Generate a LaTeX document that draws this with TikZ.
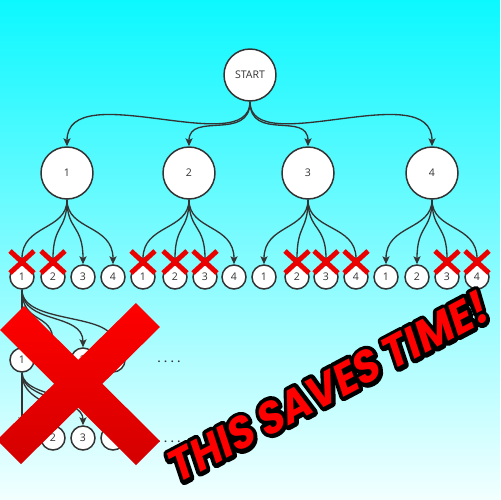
\documentclass[tikz,border=0pt]{standalone}
\usepackage{fontspec}
\setmainfont{Open Sans}
\newfontfamily\shoutfont{Poppins}[FakeSlant=0.18]
\usetikzlibrary{arrows.meta}
\definecolor{ink}{RGB}{51,51,51}
\definecolor{skytop}{RGB}{12,248,255}
\definecolor{skybot}{RGB}{242,255,255}
\definecolor{crossred}{RGB}{235,0,0}
\definecolor{crosstop}{RGB}{255,0,0}
\definecolor{crossdark}{RGB}{212,0,0}
% slogan, scaled to a fixed width and cap height
\newcommand\shouttext{\resizebox{202pt}{18.5pt}{THIS SAVES TIME!}}
% the same slogan drawn as a thick black stroke only
\newcommand\shoutrim{\resizebox{202pt}{18.5pt}{\special{pdf:literal direct 0 G 1 j 1 Tr 1.9 w}THIS SAVES TIME!\special{pdf:literal direct 0 Tr}}}

\tikzset{
  state/.style={circle, draw=ink, line width=0.85pt, fill=white, text=ink,
    inner sep=0pt, font=\fontsize{6}{7}\selectfont},
  bigstate/.style={state, minimum size=1.04cm},
  smallstate/.style={state, minimum size=0.48cm},
  edge/.style={draw=ink, line width=0.75pt,
    -{Stealth[length=4.5pt,width=4pt,inset=1pt]}},
  crossmark/.pic={\draw[crossred, line width=2.8pt] (-12,-11) -- (12,11) (-12,11) -- (12,-11);},
  bigcross/.style={top color=crosstop, bottom color=crossdark},
  shout/.style={rotate=27.8, inner sep=0pt, font=\shoutfont\bfseries},
  more/.style={text=ink, inner sep=0pt, font=\bfseries\fontsize{6}{7}\selectfont},
}

\begin{document}
\begin{tikzpicture}[x=0.02cm, y=-0.02cm]
  % sky gradient backdrop
  \useasboundingbox (0,0) rectangle (500,500);
  \fill[top color=skytop, bottom color=skybot] (0,0) rectangle (500,500);

  % root and first level
  \node[bigstate] (start) at (250,75) {START};
  \node[bigstate] (a1) at (67,173) {1};
  \node[bigstate] (a2) at (189,173) {2};
  \node[bigstate] (a3) at (308,173) {3};
  \node[bigstate] (a4) at (432,173) {4};

  % second level
  \foreach \p/\xa/\xb/\xc/\xd in {1/22/53/83/113, 2/143/175/205/234, 3/264/297/326/356, 4/386/417/447/477}{
    \node[smallstate] (b\p1) at (\xa,277) {1};
    \node[smallstate] (b\p2) at (\xb,277) {2};
    \node[smallstate] (b\p3) at (\xc,277) {3};
    \node[smallstate] (b\p4) at (\xd,277) {4};
  }

  % third and fourth levels below the first leaf
  \node[smallstate] (c1) at (22,360) {1};
  \node[smallstate] (c2) at (53,360) {2};
  \node[smallstate] (c3) at (83,360) {3};
  \node[smallstate] (c4) at (113,360) {4};
  \node[smallstate] (d1) at (22,438) {1};
  \node[smallstate] (d2) at (53,438) {2};
  \node[smallstate] (d3) at (83,438) {3};
  \node[smallstate] (d4) at (113,438) {4};

  \node[more] (more1) at (169,362) {. . . .};
  \node[more] (more2) at (169,442) {. . . .};

  % edges from the root
  \draw[edge] (start.south) .. controls +(0,59) and +(0,-71) .. (a1.north);
  \draw[edge] (start.south) .. controls +(0,40) and +(0,-35) .. (a2.north);
  \draw[edge] (start.south) .. controls +(0,40) and +(0,-35) .. (a3.north);
  \draw[edge] (start.south) .. controls +(0,59) and +(0,-71) .. (a4.north);

  % edges to the second level
  \foreach \p in {1,2,3,4}{
    \foreach \q in {1,2,3,4}{
      \draw[edge] (a\p.south) .. controls +(0,31) and +(0,-40) .. (b\p\q.north);
    }
  }

  % edges to the third and fourth levels
  \foreach \q in {1,2,3,4}{
    \draw[edge] (b11.south) .. controls +(0,35) and +(0,-35) .. (c\q.north);
    \draw[edge] (c1.south) .. controls +(0,28) and +(0,-28) .. (d\q.north);
  }

  % pruned branches
  \foreach \n in {b11,b12,b21,b22,b23,b32,b33,b34,b43,b44}{
    \path (\n) ++(0,-15) pic {crossmark};
  }

  % large cross over the deep search
  \path[bigcross] (0,330) -- (24,306) -- (160,441) -- (136,465) -- cycle;
  \path[bigcross] (136,303) -- (160,327) -- (21,464) -- (-3,440) -- cycle;

  % outlined slogan
  \node[shout, text=black] (rim) at (326,388) {\shoutrim};
  \node[shout, text=crosstop] (slogan) at (326,388) {\shouttext};
\end{tikzpicture}
\end{document}
